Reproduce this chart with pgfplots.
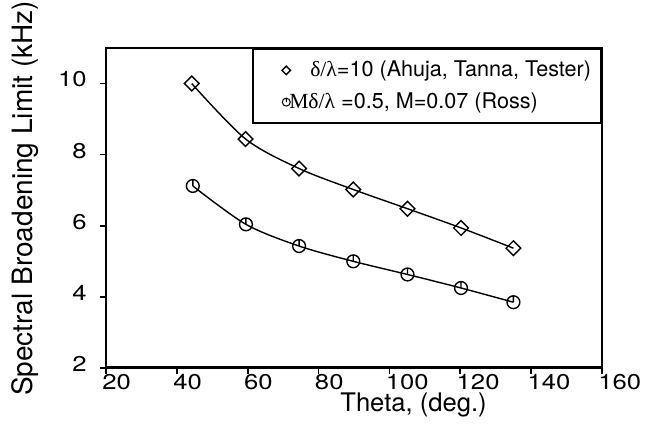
\documentclass[border=0pt]{standalone}
\usepackage{fontspec}
\setmainfont{TeX Gyre Heros}
\newfontfamily\tickfont[FakeStretch=1.2]{TeX Gyre Heros}
\newfontfamily\serifgr{Liberation Serif}
\usepackage{pgfplots}
\pgfplotsset{compat=1.18}
\pgfdeclareplotmark{clock}{%
  \pgfpathcircle{\pgfpointorigin}{\pgfplotmarksize}%
  \pgfpathmoveto{\pgfpointorigin}%
  \pgfpathlineto{\pgfpoint{0pt}{\pgfplotmarksize}}%
  \pgfusepathqstroke}
\begin{document}
\begin{tikzpicture}
\begin{axis}[
  scale only axis, width=248pt, height=160pt,
  xmin=20, xmax=160, ymin=2, ymax=11,
  xtick={20,40,...,160}, ytick={2,4,6,8,10},
  axis line style={line width=0.7pt},
  tick style={line width=0.8pt, black},
  tick align=outside, tick pos=left, major tick length=3pt,
  /pgf/number format/assume math mode=true,
  ticklabel style={font=\tickfont\fontsize{10.7}{13}\selectfont},
  xticklabel style={anchor=north west, inner sep=0pt, xshift=-2pt},
  yticklabel style={anchor=east, inner sep=0pt, xshift=-6.5pt, yshift=2pt},
  xlabel={Theta, (deg.)}, ylabel={Spectral Broadening Limit (kHz)},
  xlabel style={at={(axis description cs:0.62,-0.1375)}, anchor=base, inner sep=0pt,
    font=\fontsize{12.8}{15}\selectfont},
  ylabel style={at={(axis description cs:-0.163,0.53)}, anchor=center, inner sep=0pt,
    font=\fontsize{14}{17}\selectfont},
  legend style={at={(1,1)}, anchor=north east, draw=black, line width=1pt,
    font=\fontsize{10.8}{13}\selectfont, row sep=2.5pt, inner ysep=4pt, inner xsep=3pt},
  legend cell align=left,
  legend image code/.code={\path (0,0) -- (16pt,0);
    \draw[#1] plot coordinates {(13.5pt,0pt)};},
]
\addplot[black, line width=0.7pt, smooth, tension=0.5, mark=square, mark size=2.6pt,
  mark options={rotate=45, solid, line width=0.7pt}, forget plot] coordinates {
  (44.2,10.0) (59.4,8.44) (74.5,7.61) (89.8,7.02) (105.1,6.48) (120.2,5.94) (135.0,5.37)};
\addplot[black, line width=0.7pt, smooth, tension=0.5, mark=clock, mark size=3.2pt,
  mark options={solid, line width=0.7pt}, forget plot] coordinates {
  (44.5,7.12) (59.5,6.04) (74.5,5.43) (89.8,5.00) (105.1,4.63) (120.2,4.25) (135.0,3.85)};
\addlegendimage{draw=none, mark=square, mark size=1.5pt, mark options={rotate=45, draw=black, line width=0.7pt}}
\addlegendentry{\hspace{7.5pt}{\serifgr δ/λ}=10 (Ahuja, Tanna, Tester)}
\addlegendimage{draw=none, mark=clock, mark size=2pt, mark options={draw=black, line width=0.5pt}}
\addlegendentry{\hspace{-3pt}{\serifgr Mδ/λ} =0.5, M=0.07 (Ross)}
\draw[line width=1.5pt] (rel axis cs:0,1) -- (rel axis cs:0,0) -- (rel axis cs:1,0);
\end{axis}
\path (current axis.south west) ++(-53pt,-33.5pt);
\path (current axis.north east) ++(21.5pt,24pt);
\end{tikzpicture}
\end{document}
